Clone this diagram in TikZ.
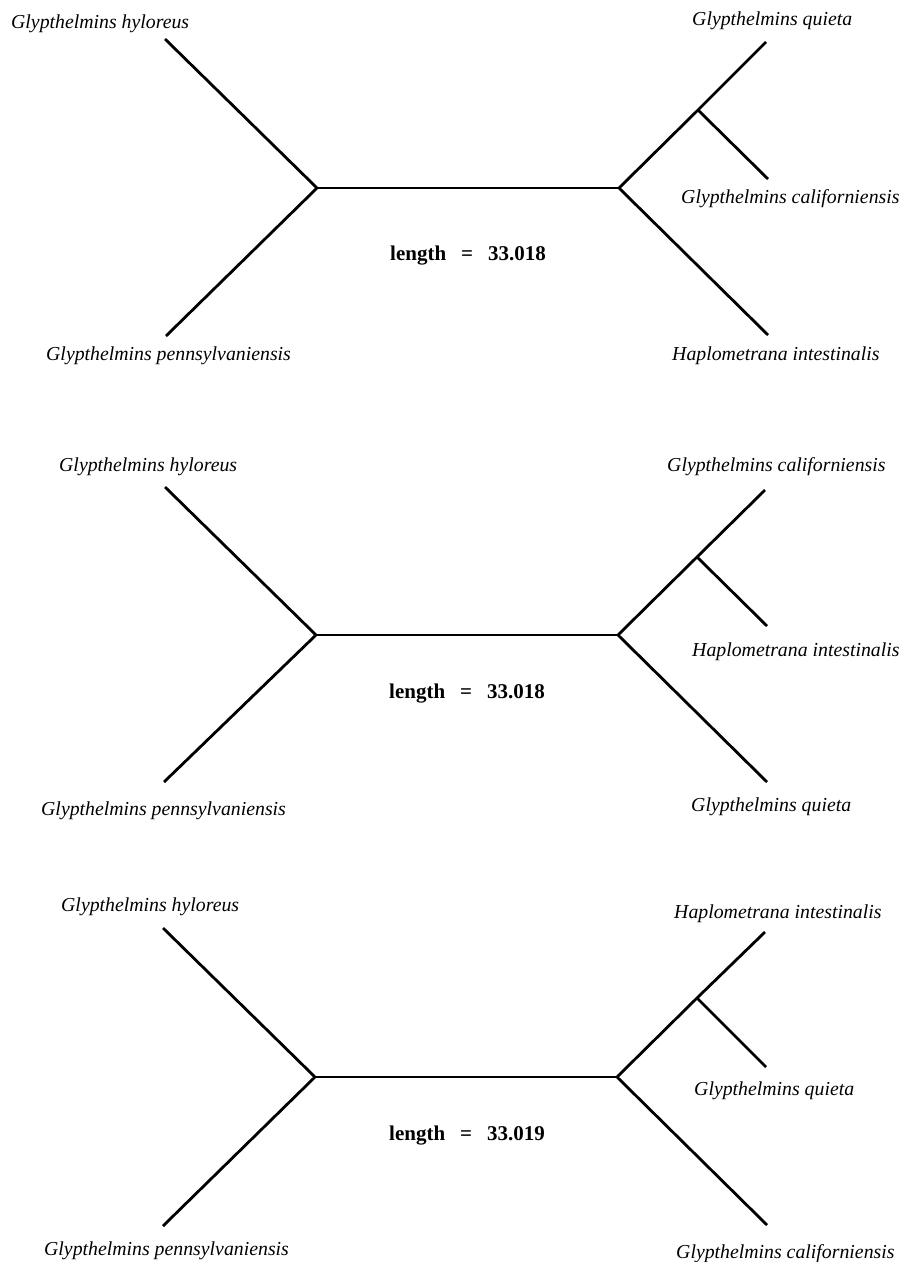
\documentclass[tikz,border=0pt]{standalone}
\usepackage{fontspec}
\setmainfont{Liberation Serif}
\begin{document}
\begin{tikzpicture}[x=1pt,y=-1pt,
  edge/.style={line width=2.8pt,line join=round},
  stem/.style={line width=2.3pt},
  taxon/.style={anchor=base west,inner sep=0pt,font=\fontsize{19.8}{23}\selectfont\itshape},
  lenlabel/.style={anchor=base west,inner sep=0pt,font=\fontsize{21}{24}\selectfont\bfseries}]
\useasboundingbox (0,0) rectangle (904,1262);
% ---------- Tree 1 ----------
\coordinate (a1L) at (317,188);
\coordinate (a1R) at (619,188);
\coordinate (a1I) at (698,110);
\coordinate (a1hy) at (165,39);
\coordinate (a1pe) at (166,336);
\coordinate (a1qu) at (766,42);
\coordinate (a1ca) at (768,179);
\coordinate (a1ha) at (768,335);
\draw[edge] (a1hy) -- (a1L) -- (a1pe);
\draw[stem] (a1L) -- (a1R);
\draw[edge] (a1R) -- (a1I) -- (a1qu);
\draw[edge] (a1I) -- (a1ca);
\draw[edge] (a1R) -- (a1ha);
\node[taxon] (t1hy) at (11,28) {Glypthelmins hyloreus};
\node[taxon] (t1pe) at (46,360) {Glypthelmins pennsylvaniensis};
\node[taxon] (t1qu) at (692,25) {Glypthelmins quieta};
\node[taxon] (t1ca) at (681,203) {Glypthelmins californiensis};
\node[taxon] (t1ha) at (672,360) {Haplometrana intestinalis};
\node[lenlabel] (l1) at (390,260) {length\hspace{15pt}=\hspace{15pt}33.018};
% ---------- Tree 2 ----------
\coordinate (a2L) at (316,635);
\coordinate (a2R) at (618,635);
\coordinate (a2I) at (697,557);
\coordinate (a2hy) at (165,487);
\coordinate (a2pe) at (164,782);
\coordinate (a2ca) at (765,490);
\coordinate (a2ha) at (767,626);
\coordinate (a2qu) at (767,782);
\draw[edge] (a2hy) -- (a2L) -- (a2pe);
\draw[stem] (a2L) -- (a2R);
\draw[edge] (a2R) -- (a2I) -- (a2ca);
\draw[edge] (a2I) -- (a2ha);
\draw[edge] (a2R) -- (a2qu);
\node[taxon] (t2hy) at (59,471) {Glypthelmins hyloreus};
\node[taxon] (t2pe) at (41,815) {Glypthelmins pennsylvaniensis};
\node[taxon] (t2ca) at (667,471) {Glypthelmins californiensis};
\node[taxon] (t2ha) at (692,656) {Haplometrana intestinalis};
\node[taxon] (t2qu) at (691,811) {Glypthelmins quieta};
\node[lenlabel] (l2) at (389,698) {length\hspace{15pt}=\hspace{15pt}33.018};
% ---------- Tree 3 ----------
\coordinate (a3L) at (315,1077);
\coordinate (a3R) at (617,1077);
\coordinate (a3I) at (697,998);
\coordinate (a3hy) at (163,928);
\coordinate (a3pe) at (163,1226);
\coordinate (a3ha) at (765,932);
\coordinate (a3qu) at (766,1067);
\coordinate (a3ca) at (767,1225);
\draw[edge] (a3hy) -- (a3L) -- (a3pe);
\draw[stem] (a3L) -- (a3R);
\draw[edge] (a3R) -- (a3I) -- (a3ha);
\draw[edge] (a3I) -- (a3qu);
\draw[edge] (a3R) -- (a3ca);
\node[taxon] (t3hy) at (61,911) {Glypthelmins hyloreus};
\node[taxon] (t3pe) at (44,1255) {Glypthelmins pennsylvaniensis};
\node[taxon] (t3ha) at (674,918) {Haplometrana intestinalis};
\node[taxon] (t3qu) at (694,1095) {Glypthelmins quieta};
\node[taxon] (t3ca) at (676,1258) {Glypthelmins californiensis};
\node[lenlabel] (l3) at (389,1140) {length\hspace{15pt}=\hspace{15pt}33.019};
\end{tikzpicture}
\end{document}
